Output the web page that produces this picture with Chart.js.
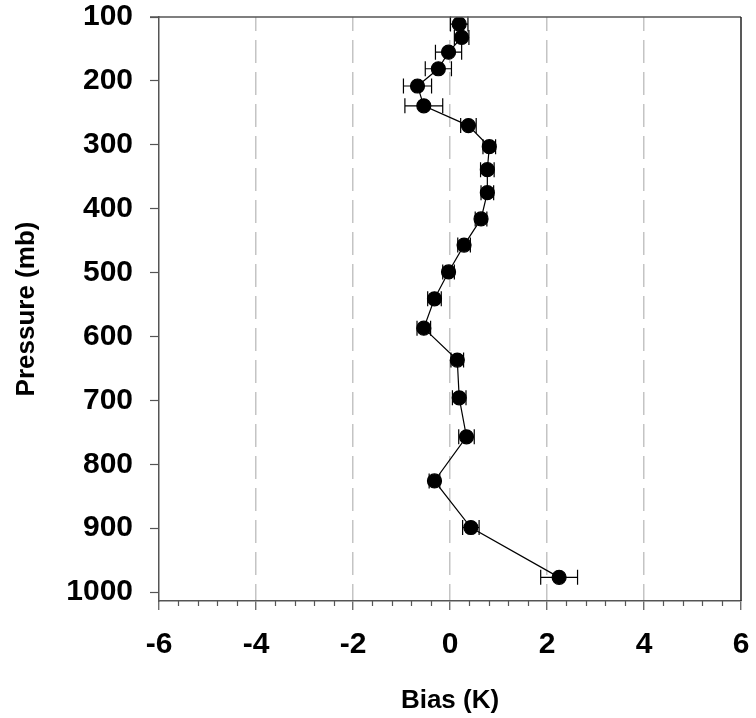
<!DOCTYPE html>
<html>
<head>
<meta charset="utf-8">
<script src="https://cdn.jsdelivr.net/npm/chart.js@4/dist/chart.umd.min.js"></script>
<style>
  html, body { margin: 0; padding: 0; background: #fff; }
  #wrap { width: 756px; height: 718px; }
</style>
</head>
<body>
<div id="wrap"><canvas id="biasChart"></canvas></div>
<script>
// values
var pressure = [111, 132, 155, 181, 208, 239, 270, 303, 339, 375, 416, 457, 499, 541, 587, 637, 696, 757, 826, 899, 977];
var bias = [0.19, 0.24, -0.03, -0.24, -0.67, -0.54, 0.38, 0.81, 0.77, 0.77, 0.64, 0.29, -0.03, -0.32, -0.54, 0.15, 0.19, 0.34, -0.32, 0.43, 2.25];
var biasErr = [0.18, 0.15, 0.27, 0.27, 0.29, 0.39, 0.16, 0.13, 0.14, 0.13, 0.12, 0.13, 0.12, 0.14, 0.14, 0.13, 0.14, 0.16, 0.11, 0.17, 0.38];
var xTicks = [-6, -4, -2, 0, 2, 4, 6];
var yTicks = [100, 200, 300, 400, 500, 600, 700, 800, 900, 1000];
var minorStep = 0.4;

var axisColor = '#555';
var fontFamily = "'Liberation Sans', Arial, sans-serif";

var points = bias.map(function(b, i) { return { x: b, y: pressure[i] }; });

var extrasPlugin = {
    id: 'extras',
    beforeDatasetsDraw: function(chart) {
        // horizontal error bars
        var ctx = chart.ctx;
        var xs = chart.scales.x, ys = chart.scales.y;
        ctx.save();
        ctx.strokeStyle = '#000';
        ctx.lineWidth = 1.2;
        for (var i = 0; i < bias.length; i++) {
            var y = ys.getPixelForValue(pressure[i]);
            var x1 = xs.getPixelForValue(bias[i] - biasErr[i]);
            var x2 = xs.getPixelForValue(bias[i] + biasErr[i]);
            ctx.beginPath();
            ctx.moveTo(x1, y); ctx.lineTo(x2, y);
            ctx.moveTo(x1, y - 7.5); ctx.lineTo(x1, y + 7.5);
            ctx.moveTo(x2, y - 7.5); ctx.lineTo(x2, y + 7.5);
            ctx.stroke();
        }
        ctx.restore();
    },
    afterDraw: function(chart) {
        var ctx = chart.ctx;
        var a = chart.chartArea;
        var xs = chart.scales.x;
        ctx.save();
        // box on top and right
        ctx.strokeStyle = axisColor;
        ctx.lineWidth = 1.5;
        ctx.beginPath();
        ctx.moveTo(a.left - 9, a.top); ctx.lineTo(a.right, a.top);
        ctx.stroke();
        ctx.strokeStyle = '#222';
        ctx.beginPath();
        ctx.moveTo(a.right, a.top); ctx.lineTo(a.right, a.bottom);
        ctx.stroke();
        // minor ticks on the x axis
        ctx.strokeStyle = axisColor;
        ctx.lineWidth = 1.2;
        ctx.beginPath();
        var n = Math.round((xs.max - xs.min) / minorStep);
        for (var k = 0; k <= n; k++) {
            var v = xs.min + k * minorStep;
            if (Math.abs(v / 2 - Math.round(v / 2)) < 1e-6) continue;
            var px = Math.round(xs.getPixelForValue(v)) + 0.5;
            ctx.moveTo(px, a.bottom); ctx.lineTo(px, a.bottom + 5);
        }
        ctx.stroke();
        ctx.restore();
    }
};

new Chart(document.getElementById('biasChart').getContext('2d'), {
    type: 'scatter',
    data: {
        datasets: [{
            data: points,
            showLine: true,
            borderColor: '#000',
            borderWidth: 1.2,
            pointRadius: 7,
            pointHoverRadius: 7,
            pointBackgroundColor: '#000',
            pointBorderColor: '#000'
        }]
    },
    options: {
        animation: false,
        responsive: true,
        maintainAspectRatio: false,
        layout: { padding: { top: 17, right: 15, left: 0, bottom: 0 } },
        plugins: {
            legend: { display: false },
            tooltip: { enabled: false }
        },
        scales: {
            x: {
                type: 'linear',
                min: -6,
                max: 6,
                afterBuildTicks: function(scale) {
                    scale.ticks = xTicks.map(function(v) { return { value: v }; });
                },
                afterFit: function(scale) {
                    scale.height = 117;
                    scale.paddingLeft = 0;
                    scale.paddingRight = 0;
                },
                grid: {
                    color: function(c) {
                        var v = c.tick ? c.tick.value : 0;
                        return (v === -6 || v === 6) ? 'rgba(0,0,0,0)' : '#c4c4c4';
                    },
                    lineWidth: 1.5,
                    tickLength: 9,
                    tickColor: axisColor,
                    tickWidth: 1.2,
                    tickBorderDash: []
                },
                border: { color: axisColor, width: 1.5, dash: [23, 9], dashOffset: 9 },
                ticks: {
                    color: '#000',
                    padding: 17,
                    maxRotation: 0,
                    font: { family: fontFamily, size: 30, weight: 'bold' },
                    callback: function(v) { return String(v); }
                },
                title: {
                    display: true,
                    text: 'Bias (K)',
                    color: '#000',
                    padding: { top: 0, bottom: 2 },
                    font: { family: fontFamily, size: 26, weight: 'bold' }
                }
            },
            y: {
                type: 'linear',
                reverse: true,
                min: 100,
                max: 1014,
                afterBuildTicks: function(scale) {
                    scale.ticks = yTicks.map(function(v) { return { value: v }; });
                },
                afterFit: function(scale) {
                    scale.width = 159;
                    scale.paddingTop = 0;
                    scale.paddingBottom = 0;
                },
                grid: {
                    drawOnChartArea: false,
                    tickLength: 9,
                    tickColor: axisColor,
                    tickWidth: 1.2
                },
                border: { color: axisColor, width: 1.5 },
                ticks: {
                    color: '#000',
                    padding: 17,
                    font: { family: fontFamily, size: 30, weight: 'bold' },
                    callback: function(v) { return String(v); }
                },
                title: {
                    display: true,
                    text: 'Pressure (mb)',
                    color: '#000',
                    padding: { top: 11, bottom: 0 },
                    font: { family: fontFamily, size: 26, weight: 'bold' }
                }
            }
        }
    },
    plugins: [extrasPlugin]
});
</script>
</body>
</html>
